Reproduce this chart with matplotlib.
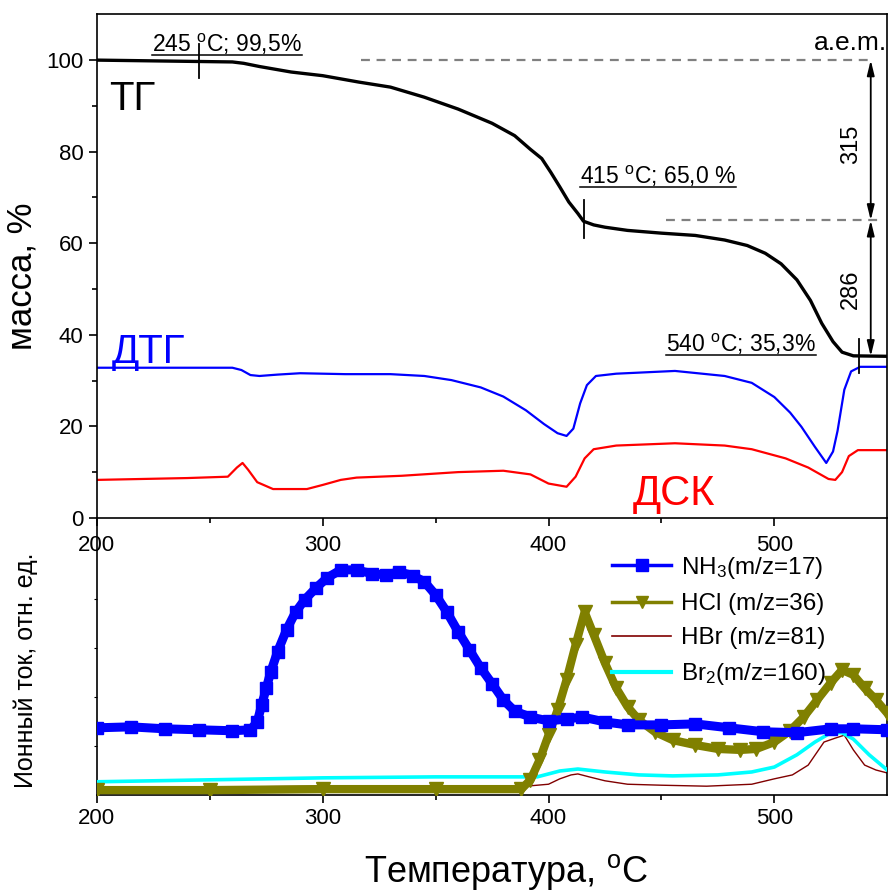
import matplotlib
matplotlib.use("Agg")
import matplotlib.pyplot as plt
from matplotlib.lines import Line2D

plt.rcParams['font.family'] = ['Liberation Sans', 'DejaVu Sans']
plt.rcParams['mathtext.fontset'] = 'custom'
plt.rcParams['mathtext.rm'] = 'Liberation Sans'
plt.rcParams['mathtext.it'] = 'Liberation Sans:italic'

# ---- TOP PANEL: TG / DTG / DSC ----
tg_t = [200, 230, 260, 265, 272, 286, 300, 316, 330, 345, 360, 375, 385, 392, 397, 401, 405, 409, 413, 415.5,
        420, 425, 435, 450, 465, 478, 488, 496, 503, 510, 516, 521, 526, 530, 535, 550]
tg_v = [100.0, 99.8, 99.6, 99.3, 98.6, 97.4, 96.6, 95.2, 94.1, 91.9, 89.3, 86.2, 83.5, 80.5, 78.5, 75.5, 72.3, 69.0, 66.5, 64.8,
        64.0, 63.5, 62.8, 62.2, 61.7, 60.7, 59.5, 57.8, 55.5, 52.0, 47.5, 42.5, 38.5, 36.2, 35.4, 35.3]

dtg_t = [200, 260, 264, 268, 272, 280, 290, 310, 330, 345, 357, 370, 380, 390, 398, 404, 408, 411, 414, 417,
         421, 430, 456, 478, 490, 500, 507, 512, 518, 523, 526, 528, 531, 534, 538, 550]
dtg_v = [32.8, 32.8, 32.3, 31.2, 31.0, 31.3, 31.6, 31.4, 31.4, 31.0, 30.1, 28.5, 26.5, 23.5, 20.5, 18.5, 17.9, 19.5, 25.0, 29.0,
         31.0, 31.5, 32.1, 31.0, 29.5, 26.4, 23.0, 19.9, 15.5, 12.0, 14.5, 19.0, 28.0, 32.0, 33.0, 33.0]

dsc_t = [200, 240, 258, 262, 264.5, 267, 271, 278, 293, 300, 308, 315, 335, 360, 380, 392, 400, 408, 412, 416,
         420, 430, 456, 478, 490, 505, 515, 524, 527, 530, 533, 537, 550]
dsc_v = [8.3, 8.7, 9.0, 11.0, 12.0, 10.5, 7.8, 6.3, 6.3, 7.2, 8.3, 8.8, 9.2, 10.0, 10.3, 9.5, 7.5, 6.8, 9.0, 13.0,
         15.0, 15.8, 16.3, 15.8, 15.0, 13.0, 11.0, 8.5, 8.3, 10.0, 13.5, 14.8, 14.8]

# ---- BOTTOM PANEL: ion currents (arb. units) ----
nh3_t = [200, 215, 230, 245, 260, 268, 271, 273, 275, 277, 280, 284, 288, 292, 297, 302, 308, 315, 322, 328,
         334, 340, 345, 350, 355, 360, 365, 370, 375, 380, 385, 392, 400, 408, 415, 425, 435, 450, 465, 480,
         495, 510, 525, 535, 550]
nh3_v = [1.37, 1.39, 1.35, 1.33, 1.31, 1.33, 1.49, 1.84, 2.18, 2.51, 2.92, 3.37, 3.73, 3.98, 4.22, 4.43, 4.59, 4.59, 4.51, 4.49,
         4.55, 4.47, 4.35, 4.08, 3.73, 3.33, 2.96, 2.59, 2.27, 1.94, 1.71, 1.59, 1.51, 1.55, 1.59, 1.49, 1.43, 1.43, 1.45, 1.37,
         1.29, 1.27, 1.35, 1.35, 1.33]

hcl_t = [200, 250, 300, 350, 388, 392, 396, 400, 404, 408, 412, 416, 420, 425, 430, 435, 440, 447, 455, 465,
         475, 485, 492, 500, 507, 513, 519, 525, 530, 535, 540, 545, 550]
hcl_v = [0.10, 0.10, 0.12, 0.12, 0.12, 0.31, 0.71, 1.22, 1.73, 2.35, 3.06, 3.73, 3.27, 2.69, 2.18, 1.80, 1.53, 1.29, 1.12, 1.02,
         0.94, 0.92, 0.94, 1.08, 1.31, 1.59, 1.94, 2.29, 2.55, 2.45, 2.18, 1.94, 1.67]

hbr_t = [200, 250, 300, 350, 390, 400, 405, 410, 413, 418, 425, 435, 450, 470, 490, 500, 508, 515, 522, 527,
         531, 535, 540, 545, 550]
hbr_v = [0.14, 0.16, 0.18, 0.18, 0.18, 0.22, 0.33, 0.41, 0.43, 0.37, 0.29, 0.22, 0.20, 0.18, 0.22, 0.33, 0.41, 0.61, 1.08, 1.16,
         1.22, 0.92, 0.61, 0.51, 0.45]

br2_t = [200, 250, 300, 350, 395, 405, 413, 425, 440, 455, 475, 490, 500, 510, 518, 525, 530, 535, 542, 550]
br2_v = [0.27, 0.31, 0.35, 0.37, 0.37, 0.49, 0.53, 0.47, 0.41, 0.39, 0.41, 0.47, 0.57, 0.82, 1.08, 1.27, 1.27, 1.14, 0.82, 0.51]

x_ticks = [200, 300, 400, 500]
top_yticks = [0, 20, 40, 60, 80, 100]

fig = plt.figure(figsize=(8.89, 8.96), dpi=100)
ax2 = fig.add_axes([0.109, 0.1127, 0.889, 0.3093])
ax1 = fig.add_axes([0.109, 0.422, 0.889, 0.562])
ax2.patch.set_visible(False)
ax1.patch.set_visible(False)
ax1.set_zorder(3)

# top panel
ax1.plot(tg_t, tg_v, color='black', lw=2.4)
ax1.plot(dtg_t, dtg_v, color='#0000ff', lw=1.6)
ax1.plot(dsc_t, dsc_v, color='#ff0000', lw=1.6)

ax1.set_xlim(200, 550)
ax1.set_ylim(0, 110)
ax1.set_xticks(x_ticks)
ax1.set_xticks([250, 350, 450], minor=True)
ax1.set_yticks(top_yticks)
ax1.set_yticks([10, 30, 50, 70, 90], minor=True)
ax1.tick_params(which='both', direction='out', labelsize=16, width=1.2)
ax1.tick_params(which='major', length=6)
ax1.tick_params(which='minor', length=3.5)
ax1.tick_params(axis='x', pad=6)
ax1.set_ylabel('масса, %', fontsize=25)
for s in ax1.spines.values():
    s.set_linewidth(1.2)

# reference dashed lines and mass arrows
ax1.plot([317, 543], [100, 100], ls=(0, (4, 3)), color='#808080', lw=1.6)
ax1.plot([452, 547], [65, 65], ls=(0, (4, 3)), color='#808080', lw=1.6)
arr = dict(arrowstyle='<|-|>,head_length=0.9,head_width=0.22', color='black', lw=1.3,
           shrinkA=0, shrinkB=0)
ax1.annotate('', xy=(542.7, 100), xytext=(542.7, 65), arrowprops=arr)
ax1.annotate('', xy=(542.7, 65), xytext=(542.7, 35.3), arrowprops=arr)
ax1.text(534.0, 81.5, '315', rotation=90, fontsize=17, ha='center', va='center')
ax1.text(534.0, 50.0, '286', rotation=90, fontsize=17, ha='center', va='center')
ax1.text(550, 102.2, 'a.e.m.', fontsize=19, ha='right', va='baseline')

# point markers on TG
ax1.plot([245, 245], [96.0, 103.5], color='black', lw=1.3)
ax1.plot([415.5, 415.5], [61.2, 69.4], color='black', lw=1.3)
ax1.plot([537.5, 537.5], [31.7, 39.0], color='black', lw=1.3)

notes = [
    (224.4, 101.7, '245 $^{\\rm o}$C; 99,5%'),
    (413.8, 73.0, '415 $^{\\rm o}$C; 65,0 %'),
    (452.0, 36.3, '540 $^{\\rm o}$C; 35,3%'),
]
note_artists = [ax1.text(x, y, s, fontsize=16.5, ha='left', va='baseline') for x, y, s in notes]

ax1.text(205.5, 89.0, 'ТГ', fontsize=29, ha='left', va='baseline')
ax1.text(206.5, 33.9, 'ДТГ', fontsize=29, ha='left', va='baseline', color='#0000ff')
ax1.text(437.5, 2.8, 'ДСК', fontsize=30, ha='left', va='baseline', color='#ff0000')

# bottom panel
ax2.plot(hbr_t, hbr_v, color='#800000', lw=1.0, zorder=2)
ax2.plot(br2_t, br2_v, color='#00ffff', lw=2.6, zorder=3)
ax2.plot(hcl_t, hcl_v, color='#808000', lw=6, marker='v', ms=10, zorder=4)
ax2.plot(nh3_t, nh3_v, color='#0000ff', lw=6.5, marker='s', ms=8.5, zorder=5)

ax2.set_xlim(200, 550)
ax2.set_ylim(0, 5.65)
ax2.set_xticks(x_ticks)
ax2.set_xticks([250, 350, 450], minor=True)
ax2.set_yticks([1, 2, 3, 4, 5])
ax2.set_yticklabels([])
ax2.tick_params(axis='x', which='both', direction='out', labelsize=16, width=1.2)
ax2.tick_params(axis='x', which='major', length=6)
ax2.tick_params(axis='x', which='minor', length=3.5)
ax2.tick_params(axis='y', direction='out', length=2.5, width=0.8)
ax2.set_ylabel('Ионный ток, отн. ед.', fontsize=18)
ax2.set_xlabel('Температура, $^{\\rm o}$C', fontsize=26)
ax2.spines['top'].set_visible(False)
for s in ax2.spines.values():
    s.set_linewidth(1.2)

handles = [
    Line2D([], [], color='#0000ff', lw=2.5, marker='s', ms=8),
    Line2D([], [], color='#808000', lw=2.5, marker='v', ms=9),
    Line2D([], [], color='#800000', lw=1.2),
    Line2D([], [], color='#00ffff', lw=3),
]
labels = ['NH$_3$(m/z=17)', 'HCl (m/z=36)', 'HBr (m/z=81)', 'Br$_2$(m/z=160)']
ax2.legend(handles, labels, loc='upper left', bbox_to_anchor=(0.637, 0.91), frameon=False,
           fontsize=17.5, handlelength=2.4, handletextpad=0.4, labelspacing=0.5, borderpad=0)

ax1.yaxis.set_label_coords(-0.074, 0.48)
ax2.yaxis.set_label_coords(-0.074, 0.45)
ax2.xaxis.set_label_coords(0.518, -0.205)

# underline annotation texts
fig.canvas.draw()
r = fig.canvas.get_renderer()
inv = fig.transFigure.inverted()
for t in note_artists:
    bb = t.get_window_extent(r)
    (x0, y0), (x1, _) = inv.transform([[bb.x0, bb.y0 + 2], [bb.x1, bb.y0 + 2]])
    fig.add_artist(Line2D([x0, x1], [y0, y0], color='black', lw=1.1))

fig.savefig('out.png', dpi=100)
